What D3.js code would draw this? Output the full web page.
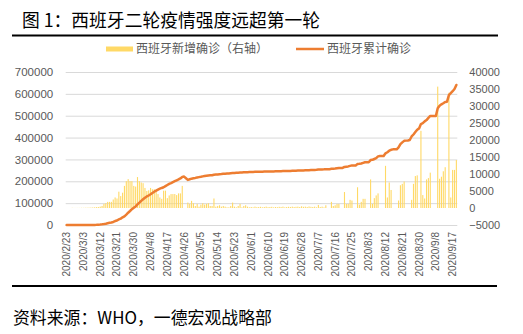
<!DOCTYPE html>
<html><head><meta charset="utf-8">
<script src="https://cdn.jsdelivr.net/npm/d3@7"></script>
<style>body{margin:0;background:#fff}svg{display:block}</style>
</head><body>
<svg id="c" width="523" height="334"></svg>
<script>
// ---- data ----
const titleText = "图 1：西班牙二轮疫情强度远超第一轮";
const sourceText = "资料来源：WHO，一德宏观战略部";
const seriesNames = ["西班牙新增确诊（右轴）", "西班牙累计确诊"];
const startDay = "2020-02-23";
const dayCount = 210;
const tickLabels = ["2020/2/23","2020/3/3","2020/3/12","2020/3/21","2020/3/30","2020/4/8","2020/4/17","2020/4/26","2020/5/5","2020/5/14","2020/5/23","2020/6/1","2020/6/10","2020/6/19","2020/6/28","2020/7/7","2020/7/16","2020/7/25","2020/8/3","2020/8/12","2020/8/21","2020/8/30","2020/9/8","2020/9/17"];
const leftTicks = [0,100000,200000,300000,400000,500000,600000,700000];
const rightTicks = [-5000,0,5000,10000,15000,20000,25000,30000,35000,40000];

const newCases = [
 0,0,0,50,20,20,30,30,60,50,80,90,110,130,160,200,250,300,
 400,600,1200,1400,1800,1800,1800,2500,3100,2800,4800,3500,4500,6500,7900,8500,7900,7900,6500,6300,9100,7900,7500,7300,5900,5000,5200,5900,5500,5500,5100,4100,3100,2700,5100,5100,2900,3700,4100,
 4100,4100,3800,4300,4300,6500,0,0,
 1600,1200,2100,1400,600,1200,400,1000,1400,1000,1200,1400,600,600,2800,400,600,800,400,600,400,200,200,600,1600,400,200,600,1200,200,600,800,400,200,
 300,200,400,250,300,350,200,300,400,250,300,350,200,300,250,350,300,400,200,300,350,300,400,300,350,400,300,500,350,400,300,450,350,300,400,200,
 900,300,400,200,800,0,0,
 1800,600,800,1200,1200,0,0,
 4700,1200,1200,2400,2200,0,0,
 6100,1000,1800,2700,2700,0,0,
 8400,1200,2900,3700,4300,0,0,
 0,12400,3100,7500,5300,0,0,
 0,2200,6700,7100,7800,0,0,
 0,2400,7100,9400,9600,0,22700,
 3800,2800,8400,8800,10400,0,0,
 0,35700,8600,9200,10800,12000,0,
 33900,3100,11200,11200,14100
];

const cumulative = [
 0,0,0,2,6,13,15,32,45,84,120,165,222,259,400,500,673,
 1695,2300,3100,4300,5800,7800,9900,11800,14000,18000,20500,25400,28800,35100,39700,47600,56200,64000,72200,78800,85200,94400,102100,110200,117700,124700,130700,135000,140500,146700,152400,157000,161800,166000,169500,172500,177600,182800,188000,191700,196000,200200,204200,208400,213000,219800,221500,214000,
 206500,209500,212000,214000,215500,217500,219000,220500,222500,224000,225200,226300,227200,228000,230000,230700,231500,232300,233000,234000,234800,235500,236100,236800,237500,238200,238900,239500,240100,240600,241000,241500,241900,242300,
 242700,243000,243300,243500,243700,243900,244100,244300,244500,244700,244900,245100,245300,245500,245800,246000,246300,246500,246800,247000,247300,247600,247900,248200,248500,248800,249100,249400,249800,250100,250500,250900,251300,251700,252100,252500,
 253400,253800,254200,254600,255400,255400,255400,
 257200,257800,258600,259800,261000,261000,261000,
 265700,266900,268100,270500,272700,272700,272700,
 278800,279800,281600,284300,287000,287000,287000,
 297000,298200,302000,306000,314000,315700,315700,
 315700,328000,333000,340000,344000,346000,346000,
 346000,355000,370000,378000,385000,386000,387000,
 389000,405000,414000,425000,436000,442000,462000,
 466000,474000,480000,490000,498700,498700,498700,
 498700,534000,546000,552000,557000,563000,564100,
 594000,603000,612000,622000,640500
];

// ---- chart ----
const fmt = d3.timeFormat("%Y/%-m/%-d");
const start = d3.timeParse("%Y-%m-%d")(startDay);
const categories = d3.timeDay.range(start, d3.timeDay.offset(start, dayCount)).map(fmt);

const svg = d3.select("#c");
const cjk = "'Noto Sans CJK SC','Noto Sans',sans-serif";
const latin = "'Liberation Sans',Arial,sans-serif";
const gray = "#595959";

const plot = {left: 65.7, right: 457.3, top: 72, bottom: 225};
const x = d3.scaleBand().domain(categories).range([plot.left, plot.right]);
const yL = d3.scaleLinear().domain([0, 700000]).range([plot.bottom, plot.top]);
const yR = d3.scaleLinear().domain([-5000, 40000]).range([plot.bottom, plot.top]);
const bw = x.bandwidth();

// title
svg.append("text").attr("x", 22).attr("y", 27)
  .attr("font-family", cjk).attr("font-size", 18).attr("fill", "#000")
  .attr("textLength", 298).attr("lengthAdjust", "spacingAndGlyphs")
  .text(titleText);
svg.append("line").attr("x1", 12).attr("x2", 498).attr("y1", 35.5).attr("y2", 35.5)
  .attr("stroke", "#000").attr("stroke-width", 2);

// legend
svg.append("rect").attr("x", 106).attr("y", 46.5).attr("width", 27).attr("height", 5).attr("fill", "#FFD966");
svg.append("text").attr("x", 136).attr("y", 49).attr("dy", "0.35em")
  .attr("font-family", cjk).attr("font-size", 12).attr("fill", gray).text(seriesNames[0]);
svg.append("line").attr("x1", 296).attr("x2", 324).attr("y1", 49).attr("y2", 49)
  .attr("stroke", "#ED7D31").attr("stroke-width", 2.5);
svg.append("text").attr("x", 327).attr("y", 49).attr("dy", "0.35em")
  .attr("font-family", cjk).attr("font-size", 12).attr("fill", gray).text(seriesNames[1]);

// gridlines
const grid = svg.append("g").attr("transform", `translate(${plot.left},0)`)
  .call(d3.axisLeft(yL).tickValues(leftTicks).tickSize(-(plot.right - plot.left)).tickFormat(""));
grid.select(".domain").remove();
grid.selectAll("line").attr("stroke", "#D9D9D9").attr("stroke-width", 1);

// left axis
const la = svg.append("g").attr("transform", `translate(${plot.left},0)`)
  .call(d3.axisLeft(yL).tickValues(leftTicks).tickSize(0).tickPadding(12.5).tickFormat(d3.format("d")));
la.select(".domain").remove();
la.selectAll("text").attr("font-family", latin).attr("font-size", 11.5).attr("fill", gray);

// right axis
const ra = svg.append("g").attr("transform", `translate(${plot.right},0)`)
  .call(d3.axisRight(yR).tickValues(rightTicks).tickSize(0).tickPadding(12).tickFormat(d3.format("d")));
ra.select(".domain").remove();
ra.selectAll("text").attr("font-family", latin).attr("font-size", 11).attr("fill", gray);

// bottom axis
const xa = svg.append("g").attr("transform", `translate(0,${plot.bottom})`)
  .call(d3.axisBottom(x).tickValues(tickLabels).tickSize(0));
xa.select(".domain").remove();
xa.selectAll("text")
  .attr("font-family", latin).attr("font-size", 10).attr("fill", gray)
  .attr("text-anchor", "end").attr("transform", "rotate(-90)")
  .attr("x", -7).attr("y", 0).attr("dy", "0.35em");

// bars (right axis)
const barW = 1.1;
svg.append("g").selectAll("rect").data(newCases).join("rect")
  .attr("x", (d, i) => x(categories[i]) + bw / 2 - barW / 2)
  .attr("y", d => yR(Math.max(d, 0)))
  .attr("width", barW)
  .attr("height", d => Math.abs(yR(d) - yR(0)))
  .attr("fill", "#FFD966");

// line (left axis)
const line = d3.line()
  .x((d, i) => x(categories[i]) + bw / 2)
  .y(d => yL(d));
svg.append("path").datum(cumulative)
  .attr("d", line).attr("fill", "none")
  .attr("stroke", "#ED7D31").attr("stroke-width", 2.5)
  .attr("stroke-linejoin", "round").attr("stroke-linecap", "round");

// bottom rule and source
svg.append("line").attr("x1", 12).attr("x2", 497).attr("y1", 286).attr("y2", 286)
  .attr("stroke", "#000").attr("stroke-width", 2);
svg.append("text").attr("x", 13).attr("y", 324)
  .attr("font-family", cjk).attr("font-size", 17).attr("fill", "#000")
  .attr("textLength", 259).attr("lengthAdjust", "spacingAndGlyphs")
  .text(sourceText);
</script>
</body></html>
